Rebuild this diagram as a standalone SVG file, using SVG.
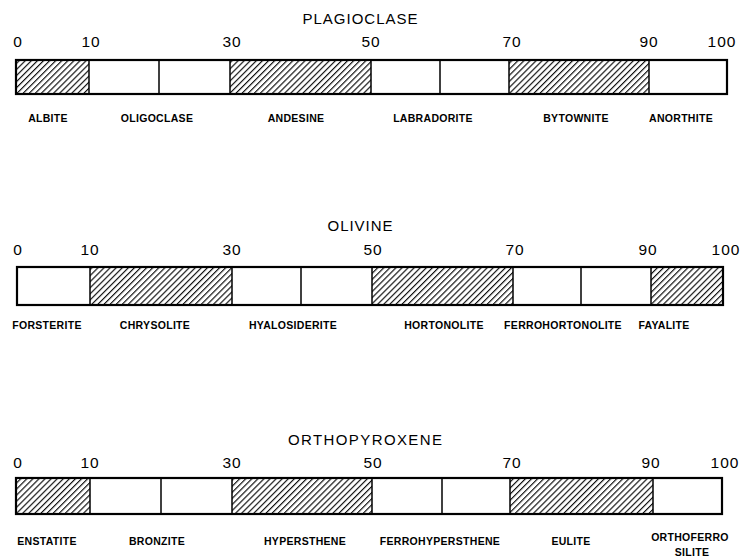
<svg xmlns="http://www.w3.org/2000/svg" width="745" height="558" viewBox="0 0 745 558">
<style>
.bar{fill:none;stroke:#000;stroke-width:2.2}
.div{stroke:#000;stroke-width:1.5}
.hatch{fill:url(#hatch);stroke:none}
.title{font-family:"Liberation Sans",Arial,sans-serif;font-size:15px;fill:#000;text-anchor:middle}
.tick{font-family:"Liberation Sans",Arial,sans-serif;font-size:15.5px;fill:#000;text-anchor:middle;letter-spacing:1px}
.lbl{font-family:"Liberation Sans",Arial,sans-serif;font-size:10.5px;font-weight:bold;fill:#000;text-anchor:middle;letter-spacing:0.3px}
</style>
<defs>
<pattern id="hatch" patternUnits="userSpaceOnUse" width="4.3" height="4.3" patternTransform="rotate(45)">
<rect width="4.3" height="4.3" fill="#fff"/>
<line x1="0.6" y1="0" x2="0.6" y2="4.3" stroke="#000" stroke-width="1.1"/>
</pattern>
</defs>
<rect width="745" height="558" fill="#fff"/>

<g id="plagioclase">
<text class="title" x="360" y="24" textLength="115">PLAGIOCLASE</text>
<g class="ticks">
<text class="tick" x="18" y="47">0</text>
<text class="tick" x="91" y="47">10</text>
<text class="tick" x="232" y="47">30</text>
<text class="tick" x="371" y="47">50</text>
<text class="tick" x="512" y="47">70</text>
<text class="tick" x="649" y="47">90</text>
<text class="tick" x="722" y="47">100</text>
</g>
<rect class="hatch" x="16" y="60" width="73" height="34"/>
<rect class="hatch" x="230" y="60" width="141" height="34"/>
<rect class="hatch" x="509" y="60" width="140" height="34"/>
<line class="div" x1="89" y1="60" x2="89" y2="94"/>
<line class="div" x1="159" y1="60" x2="159" y2="94"/>
<line class="div" x1="230" y1="60" x2="230" y2="94"/>
<line class="div" x1="371" y1="60" x2="371" y2="94"/>
<line class="div" x1="440" y1="60" x2="440" y2="94"/>
<line class="div" x1="509" y1="60" x2="509" y2="94"/>
<line class="div" x1="649" y1="60" x2="649" y2="94"/>
<rect class="bar" x="16" y="60" width="711" height="34"/>
<text class="lbl" x="48" y="122">ALBITE</text>
<text class="lbl" x="157" y="122">OLIGOCLASE</text>
<text class="lbl" x="296" y="122">ANDESINE</text>
<text class="lbl" x="433" y="122">LABRADORITE</text>
<text class="lbl" x="576" y="122">BYTOWNITE</text>
<text class="lbl" x="681" y="122">ANORTHITE</text>
</g>

<g id="olivine">
<text class="title" x="360" y="231" textLength="65">OLIVINE</text>
<g class="ticks">
<text class="tick" x="18" y="255">0</text>
<text class="tick" x="90" y="255">10</text>
<text class="tick" x="232" y="255">30</text>
<text class="tick" x="373" y="255">50</text>
<text class="tick" x="515" y="255">70</text>
<text class="tick" x="648" y="255">90</text>
<text class="tick" x="726" y="255">100</text>
</g>
<rect class="hatch" x="90" y="267" width="142" height="38"/>
<rect class="hatch" x="372" y="267" width="141" height="38"/>
<rect class="hatch" x="651" y="267" width="72" height="38"/>
<line class="div" x1="90" y1="267" x2="90" y2="305"/>
<line class="div" x1="232" y1="267" x2="232" y2="305"/>
<line class="div" x1="301" y1="267" x2="301" y2="305"/>
<line class="div" x1="372" y1="267" x2="372" y2="305"/>
<line class="div" x1="513" y1="267" x2="513" y2="305"/>
<line class="div" x1="581" y1="267" x2="581" y2="305"/>
<line class="div" x1="651" y1="267" x2="651" y2="305"/>
<rect class="bar" x="17" y="267" width="706" height="38"/>
<text class="lbl" x="47" y="329">FORSTERITE</text>
<text class="lbl" x="155" y="329">CHRYSOLITE</text>
<text class="lbl" x="293" y="329">HYALOSIDERITE</text>
<text class="lbl" x="444" y="329">HORTONOLITE</text>
<text class="lbl" x="563" y="329">FERROHORTONOLITE</text>
<text class="lbl" x="664" y="329">FAYALITE</text>
</g>

<g id="orthopyroxene">
<text class="title" x="365" y="445" textLength="154">ORTHOPYROXENE</text>
<g class="ticks">
<text class="tick" x="18" y="468">0</text>
<text class="tick" x="90" y="468">10</text>
<text class="tick" x="232" y="468">30</text>
<text class="tick" x="373" y="468">50</text>
<text class="tick" x="512" y="468">70</text>
<text class="tick" x="651" y="468">90</text>
<text class="tick" x="725" y="468">100</text>
</g>
<rect class="hatch" x="16" y="478" width="74" height="36"/>
<rect class="hatch" x="232" y="478" width="140" height="36"/>
<rect class="hatch" x="510" y="478" width="143" height="36"/>
<line class="div" x1="90" y1="478" x2="90" y2="514"/>
<line class="div" x1="161" y1="478" x2="161" y2="514"/>
<line class="div" x1="232" y1="478" x2="232" y2="514"/>
<line class="div" x1="372" y1="478" x2="372" y2="514"/>
<line class="div" x1="442" y1="478" x2="442" y2="514"/>
<line class="div" x1="510" y1="478" x2="510" y2="514"/>
<line class="div" x1="653" y1="478" x2="653" y2="514"/>
<rect class="bar" x="16" y="478" width="706" height="36"/>
<text class="lbl" x="47" y="545">ENSTATITE</text>
<text class="lbl" x="157" y="545">BRONZITE</text>
<text class="lbl" x="305" y="545">HYPERSTHENE</text>
<text class="lbl" x="440" y="545">FERROHYPERSTHENE</text>
<text class="lbl" x="571" y="545">EULITE</text>
<text class="lbl" x="690" y="541">ORTHOFERRO</text>
<text class="lbl" x="692" y="556">SILITE</text>
</g>
</svg>
